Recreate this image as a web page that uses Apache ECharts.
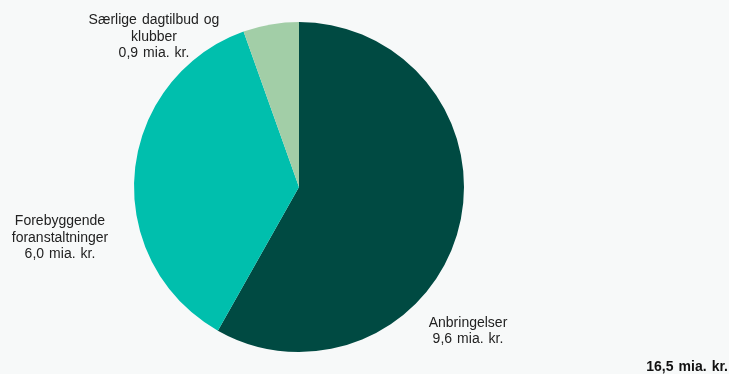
<!DOCTYPE html>
<html>
<head>
<meta charset="utf-8">
<script src="https://cdn.jsdelivr.net/npm/echarts@6/dist/echarts.min.js"></script>
<style>
html,body{margin:0;padding:0;background:#f7f9f9;}
#c{width:729px;height:374px;}
</style>
</head>
<body>
<div id="c"></div>
<script>
const categories = ['Anbringelser', 'Forebyggende\nforanstaltninger', 'Særlige dagtilbud og\nklubber'];
const values = [9.6, 6.0, 0.9];
const colors = ['#004a42', '#00bfad', '#a2cea7'];
const labelPos = [[468, 331], [60, 238], [154, 37]];

function sp(s) { return s.replace(/ /g, ' \u200A'); }
function fmt(v) { return v.toFixed(1).replace('.', ',') + ' mia. kr.'; }
const total = values.reduce((a, b) => a + b, 0);

const chart = echarts.init(document.getElementById('c'), null, {renderer: 'canvas'});
chart.setOption({
  backgroundColor: '#f7f9f9',
  animation: false,
  series: [{
    type: 'pie',
    center: [299, 187],
    radius: [0, 165],
    startAngle: 90,
    clockwise: true,
    silent: true,
    itemStyle: {borderWidth: 0},
    data: categories.map((c, i) => ({name: c, value: values[i], itemStyle: {color: colors[i]}})),
    label: {
      show: true,
      position: 'outside',
      overflow: 'none',
      formatter: p => sp(p.name + '\n' + fmt(p.value)),
      fontFamily: 'Liberation Sans, Arial, sans-serif',
      fontSize: 14,
      lineHeight: 16.5,
      color: '#222222',
      align: 'center'
    },
    labelLine: {show: false},
    labelLayout: p => ({x: labelPos[p.dataIndex][0], y: labelPos[p.dataIndex][1], align: 'center', verticalAlign: 'middle', hideOverlap: false})
  }],
  graphic: [{
    type: 'text',
    right: 1,
    top: 360,
    style: {
      text: sp(fmt(total)),
      fontFamily: 'Liberation Sans, Arial, sans-serif',
      fontSize: 14,
      fontWeight: 'bold',
      fill: '#111111'
    }
  }]
});
</script>
</body>
</html>
